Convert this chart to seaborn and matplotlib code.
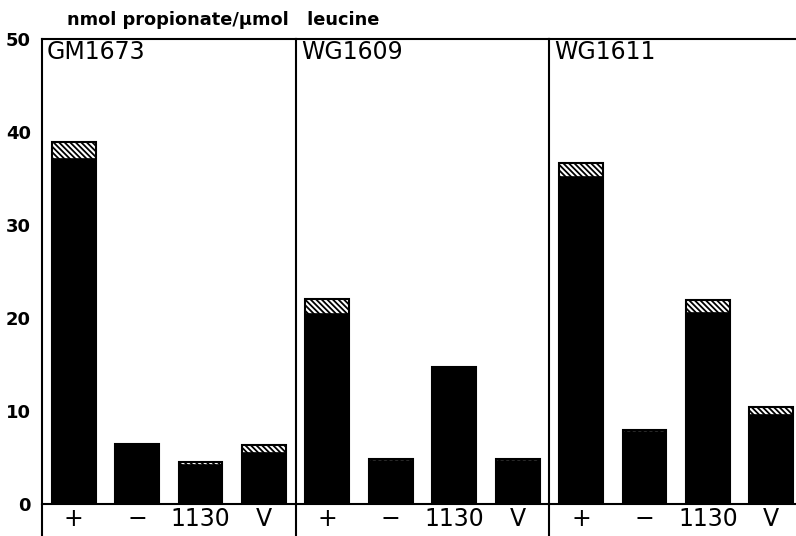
import matplotlib
matplotlib.use("Agg")
import matplotlib.pyplot as plt
import pandas as pd
import seaborn as sns

# strains (panels) and treatments (bars)
strains = ["GM1673", "WG1609", "WG1611"]
treatments = ["+", "\u2212", "1130", "V"]

# black part of each bar (mean)
gm1673_mean = [37.1, 6.5, 4.2, 5.5]
wg1609_mean = [20.4, 4.6, 14.7, 4.6]
wg1611_mean = [35.2, 7.7, 20.5, 9.6]
# top of the hatched part
gm1673_top = [38.9, 6.5, 4.5, 6.3]
wg1609_top = [22.0, 4.8, 14.7, 4.8]
wg1611_top = [36.7, 8.0, 21.9, 10.4]

y_ticks = [0, 10, 20, 30, 40, 50]
y_label = "nmol propionate/\u00b5mol   leucine"

means = [gm1673_mean, wg1609_mean, wg1611_mean]
tops = [gm1673_top, wg1609_top, wg1611_top]

rows = []
for s, m, t in zip(strains, means, tops):
    for tr, mv, tv in zip(treatments, m, t):
        rows.append({"strain": s, "treatment": tr, "mean": mv, "top": tv})
df = pd.DataFrame(rows)

sns.set_style("white")
plt.rcParams["font.family"] = ["DejaVu Sans"]
plt.rcParams["hatch.linewidth"] = 1.3
plt.rcParams["hatch.color"] = "black"
for k in ["text.color", "axes.labelcolor", "xtick.color", "ytick.color"]:
    plt.rcParams[k] = "black"

fig, axes = plt.subplots(1, 3, sharey=True, figsize=(7.96, 5.36), dpi=100,
                         gridspec_kw=dict(wspace=0))
fig.subplots_adjust(left=42 / 796, right=803 / 796, bottom=32 / 536, top=497 / 536)

for i, (ax, s) in enumerate(zip(axes, strains)):
    d = df[df["strain"] == s]
    # hatched full bar, then the black mean on top of it
    sns.barplot(data=d, x="treatment", y="top", order=treatments, color="white",
                saturation=1, edgecolor="black", linewidth=1.5, hatch="\\" * 6,
                width=0.69, errorbar=None, ax=ax)
    sns.barplot(data=d, x="treatment", y="mean", order=treatments, color="black",
                saturation=1, edgecolor="black", linewidth=1.2,
                width=0.69, errorbar=None, ax=ax)
    ax.set_ylim(0, 50)
    ax.set_xlim(-0.5, 3.5)
    ax.set_xlabel("")
    ax.set_ylabel("")
    for side in ["left", "top", "bottom"]:
        ax.spines[side].set_visible(True)
        ax.spines[side].set_linewidth(1.5)
        ax.spines[side].set_color("black")
    ax.spines["right"].set_visible(False)
    ax.tick_params(axis="x", length=0, pad=2, labelsize=17)
    # divider line continues down through the label row
    ax.plot([0, 0], [0, -0.07], transform=ax.transAxes, color="black",
            lw=1.5, clip_on=False)
    ax.text(0.02, 0.997, s, transform=ax.transAxes, ha="left", va="top",
            fontsize=17)
    if i == 0:
        ax.set_yticks(y_ticks)
        ax.tick_params(axis="y", direction="in", length=7.5, width=1.3,
                       pad=8, labelsize=13)
        for lab in ax.get_yticklabels():
            lab.set_fontweight("bold")
    else:
        ax.tick_params(axis="y", length=0, labelleft=False)

fig.text(67 / 796, 1 - 20 / 536, y_label, ha="left", va="center",
         fontsize=12.8, fontweight="bold")

fig.savefig("out.png", dpi=100)
